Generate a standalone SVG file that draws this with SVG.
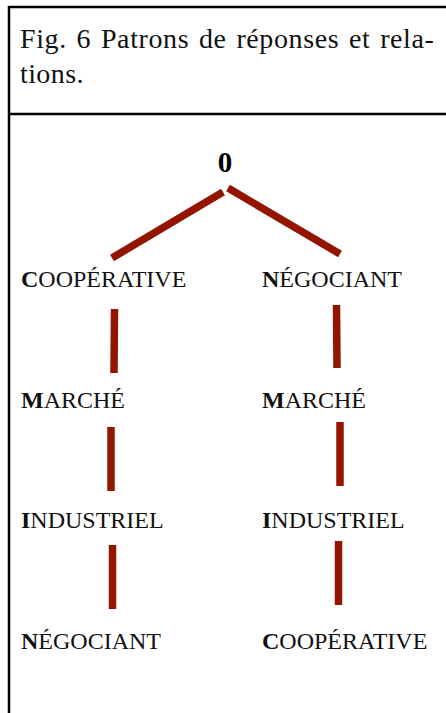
<svg xmlns="http://www.w3.org/2000/svg" width="446" height="713" viewBox="0 0 446 713">
  <style>
    .frame { fill: none; stroke: #000; stroke-width: 2.5; }
    .title { font-family: "Liberation Serif", "Times New Roman", serif; font-size: 28px; fill: #111; }
    .label { font-family: "Liberation Serif", "Times New Roman", serif; font-size: 24px; fill: #111; }
    .label tspan.init, .root { font-weight: bold; }
    .root { font-family: "Liberation Serif", "Times New Roman", serif; font-size: 29px; fill: #000; }
    .link { stroke: #931500; stroke-width: 7.5; fill: none; }
  </style>
  <rect width="446" height="713" fill="#fff"/>

  <!-- caption frame -->
  <g id="frame">
    <line class="frame" x1="9" y1="7" x2="446" y2="7"/>
    <line class="frame" x1="9" y1="114" x2="446" y2="114"/>
    <line class="frame" x1="9" y1="6" x2="9" y2="713"/>
  </g>

  <g id="caption">
    <text class="title" x="20" y="48" letter-spacing="0.6" word-spacing="2.2">Fig. 6 Patrons de réponses et rela-</text>
    <text class="title" x="20" y="83" letter-spacing="0.4">tions.</text>
  </g>

  <!-- connectors -->
  <g id="connectors">
    <line class="link" x1="112" y1="258" x2="223" y2="192"/>
    <line class="link" x1="228" y1="188" x2="340" y2="254"/>
    <line class="link" x1="114.5" y1="309" x2="114" y2="373"/>
    <line class="link" x1="336.5" y1="305" x2="337" y2="368"/>
    <line class="link" x1="111" y1="427" x2="111" y2="491"/>
    <line class="link" x1="340" y1="422" x2="340" y2="486"/>
    <line class="link" x1="112.5" y1="545" x2="112.5" y2="609"/>
    <line class="link" x1="338.5" y1="541" x2="338.5" y2="605"/>
  </g>

  <!-- nodes -->
  <g id="node-root"><text class="root" x="225" y="172" text-anchor="middle">0</text></g>

  <g id="node-l1"><text class="label" x="21" y="287"><tspan class="init">C</tspan>OOPÉRATIVE</text></g>
  <g id="node-l2"><text class="label" x="21" y="408"><tspan class="init">M</tspan>ARCHÉ</text></g>
  <g id="node-l3"><text class="label" x="21" y="528"><tspan class="init">I</tspan>NDUSTRIEL</text></g>
  <g id="node-l4"><text class="label" x="21" y="649"><tspan class="init">N</tspan>ÉGOCIANT</text></g>

  <g id="node-r1"><text class="label" x="262" y="287"><tspan class="init">N</tspan>ÉGOCIANT</text></g>
  <g id="node-r2"><text class="label" x="262" y="408"><tspan class="init">M</tspan>ARCHÉ</text></g>
  <g id="node-r3"><text class="label" x="262" y="528"><tspan class="init">I</tspan>NDUSTRIEL</text></g>
  <g id="node-r4"><text class="label" x="262" y="649"><tspan class="init">C</tspan>OOPÉRATIVE</text></g>
</svg>
